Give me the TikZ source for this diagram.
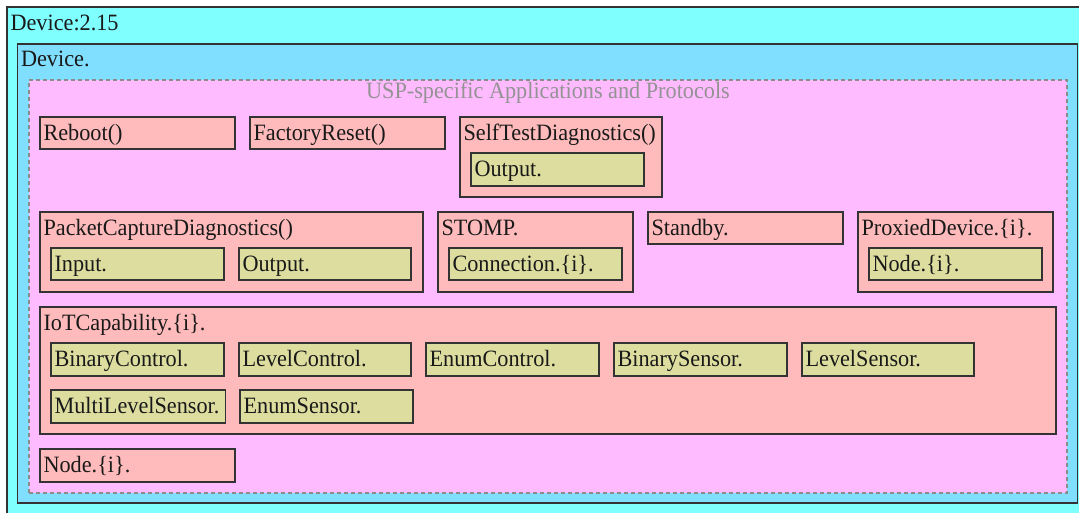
\documentclass[tikz,border=0pt]{standalone}
\usepackage{fontspec}
\setmainfont[FakeStretch=0.95]{Liberation Serif}
\usetikzlibrary{fit}
\definecolor{outerc}{HTML}{80FFFF}
\definecolor{devc}{HTML}{80DFFF}
\definecolor{grpc}{HTML}{FFBBFF}
\definecolor{objc}{HTML}{FFBBBB}
\definecolor{parc}{HTML}{DDDDA0}
\definecolor{edgec}{HTML}{333333}
\tikzset{
  outerbox/.style={draw=edgec, fill=outerc, line width=1.3pt},
  devbox/.style={draw=edgec, fill=devc, line width=1.3pt},
  grpbox/.style={draw=gray!90, fill=grpc, line width=1.1pt, dash pattern=on 4pt off 3pt},
  objbox/.style={draw=edgec, fill=objc, line width=1.3pt},
  parbox/.style={draw=edgec, fill=parc, line width=1.3pt},
  lbl/.style={inner sep=0pt, font=\fontsize{23.4}{26}\selectfont, text=black!90},
  grplbl/.style={inner sep=0pt, font=\fontsize{23.4}{26}\selectfont, text=gray!85},
}
\newcommand{\mkbox}[7]{%
  \node[#6, fit={(#2,#3) (#4,#5)}, inner sep=0pt] (#1) {};
  \node[lbl, anchor=base west] (#1-t) at ([xshift=4pt,yshift=-24pt]#1.north west) {#7};
}
\begin{document}
\begin{tikzpicture}[x=1pt,y=-1pt]
\useasboundingbox (0,0) rectangle (1079,512);
\begin{scope}
\clip (0,0) rectangle (1079,512);
\node[outerbox, fit={(7,7) (1095,530)}, inner sep=0pt] (root) {};
\node[lbl, anchor=base west] (root-t) at ([xshift=4pt,yshift=-24pt]root.north west) {Device:2.15};
\end{scope}
\node[devbox, fit={(17.5,44) (1077.5,503)}, inner sep=0pt] (dev) {};
\node[lbl, anchor=base west] (dev-t) at ([xshift=4pt,yshift=-23pt]dev.north west) {Device.};
\node[grpbox, fit={(29,80) (1067,493)}, inner sep=0pt] (grp) {};
\node[grplbl, anchor=base] (grp-t) at (548,98) {USP-specific Applications and Protocols};

\mkbox{reboot}{40}{117}{235}{149}{objbox}{Reboot()}
\mkbox{freset}{250}{117}{445}{149}{objbox}{FactoryReset()}
\mkbox{selftest}{460}{117}{662}{197}{objbox}{SelfTestDiagnostics()}
\mkbox{stout}{471}{153}{644}{186}{parbox}{Output.}

\mkbox{pcap}{40}{212}{423}{292}{objbox}{PacketCaptureDiagnostics()}
\mkbox{pcin}{51}{248}{224}{280}{parbox}{Input.}
\mkbox{pcout}{239}{248}{411}{280}{parbox}{Output.}
\mkbox{stomp}{438}{212}{633}{292}{objbox}{STOMP.}
\mkbox{conn}{449}{248}{622}{280}{parbox}{Connection.\{i\}.}
\mkbox{standby}{648}{212}{843}{244}{objbox}{Standby.}
\mkbox{proxy}{858}{212}{1053}{292}{objbox}{ProxiedDevice.\{i\}.}
\mkbox{pnode}{869}{248}{1042}{280}{parbox}{Node.\{i\}.}

\mkbox{iot}{40}{307}{1056}{434}{objbox}{IoTCapability.\{i\}.}
\mkbox{bctl}{51}{343}{224}{376}{parbox}{BinaryControl.}
\mkbox{lctl}{239}{343}{411}{376}{parbox}{LevelControl.}
\mkbox{ectl}{426}{343}{599}{376}{parbox}{EnumControl.}
\mkbox{bsen}{614}{343}{787}{376}{parbox}{BinarySensor.}
\mkbox{lsen}{802}{343}{974}{376}{parbox}{LevelSensor.}
\mkbox{mlsen}{51}{390}{225.5}{423}{parbox}{MultiLevelSensor.}
\mkbox{esen}{240}{390}{413}{423}{parbox}{EnumSensor.}

\mkbox{node}{40}{449}{235}{482}{objbox}{Node.\{i\}.}
\end{tikzpicture}
\end{document}
